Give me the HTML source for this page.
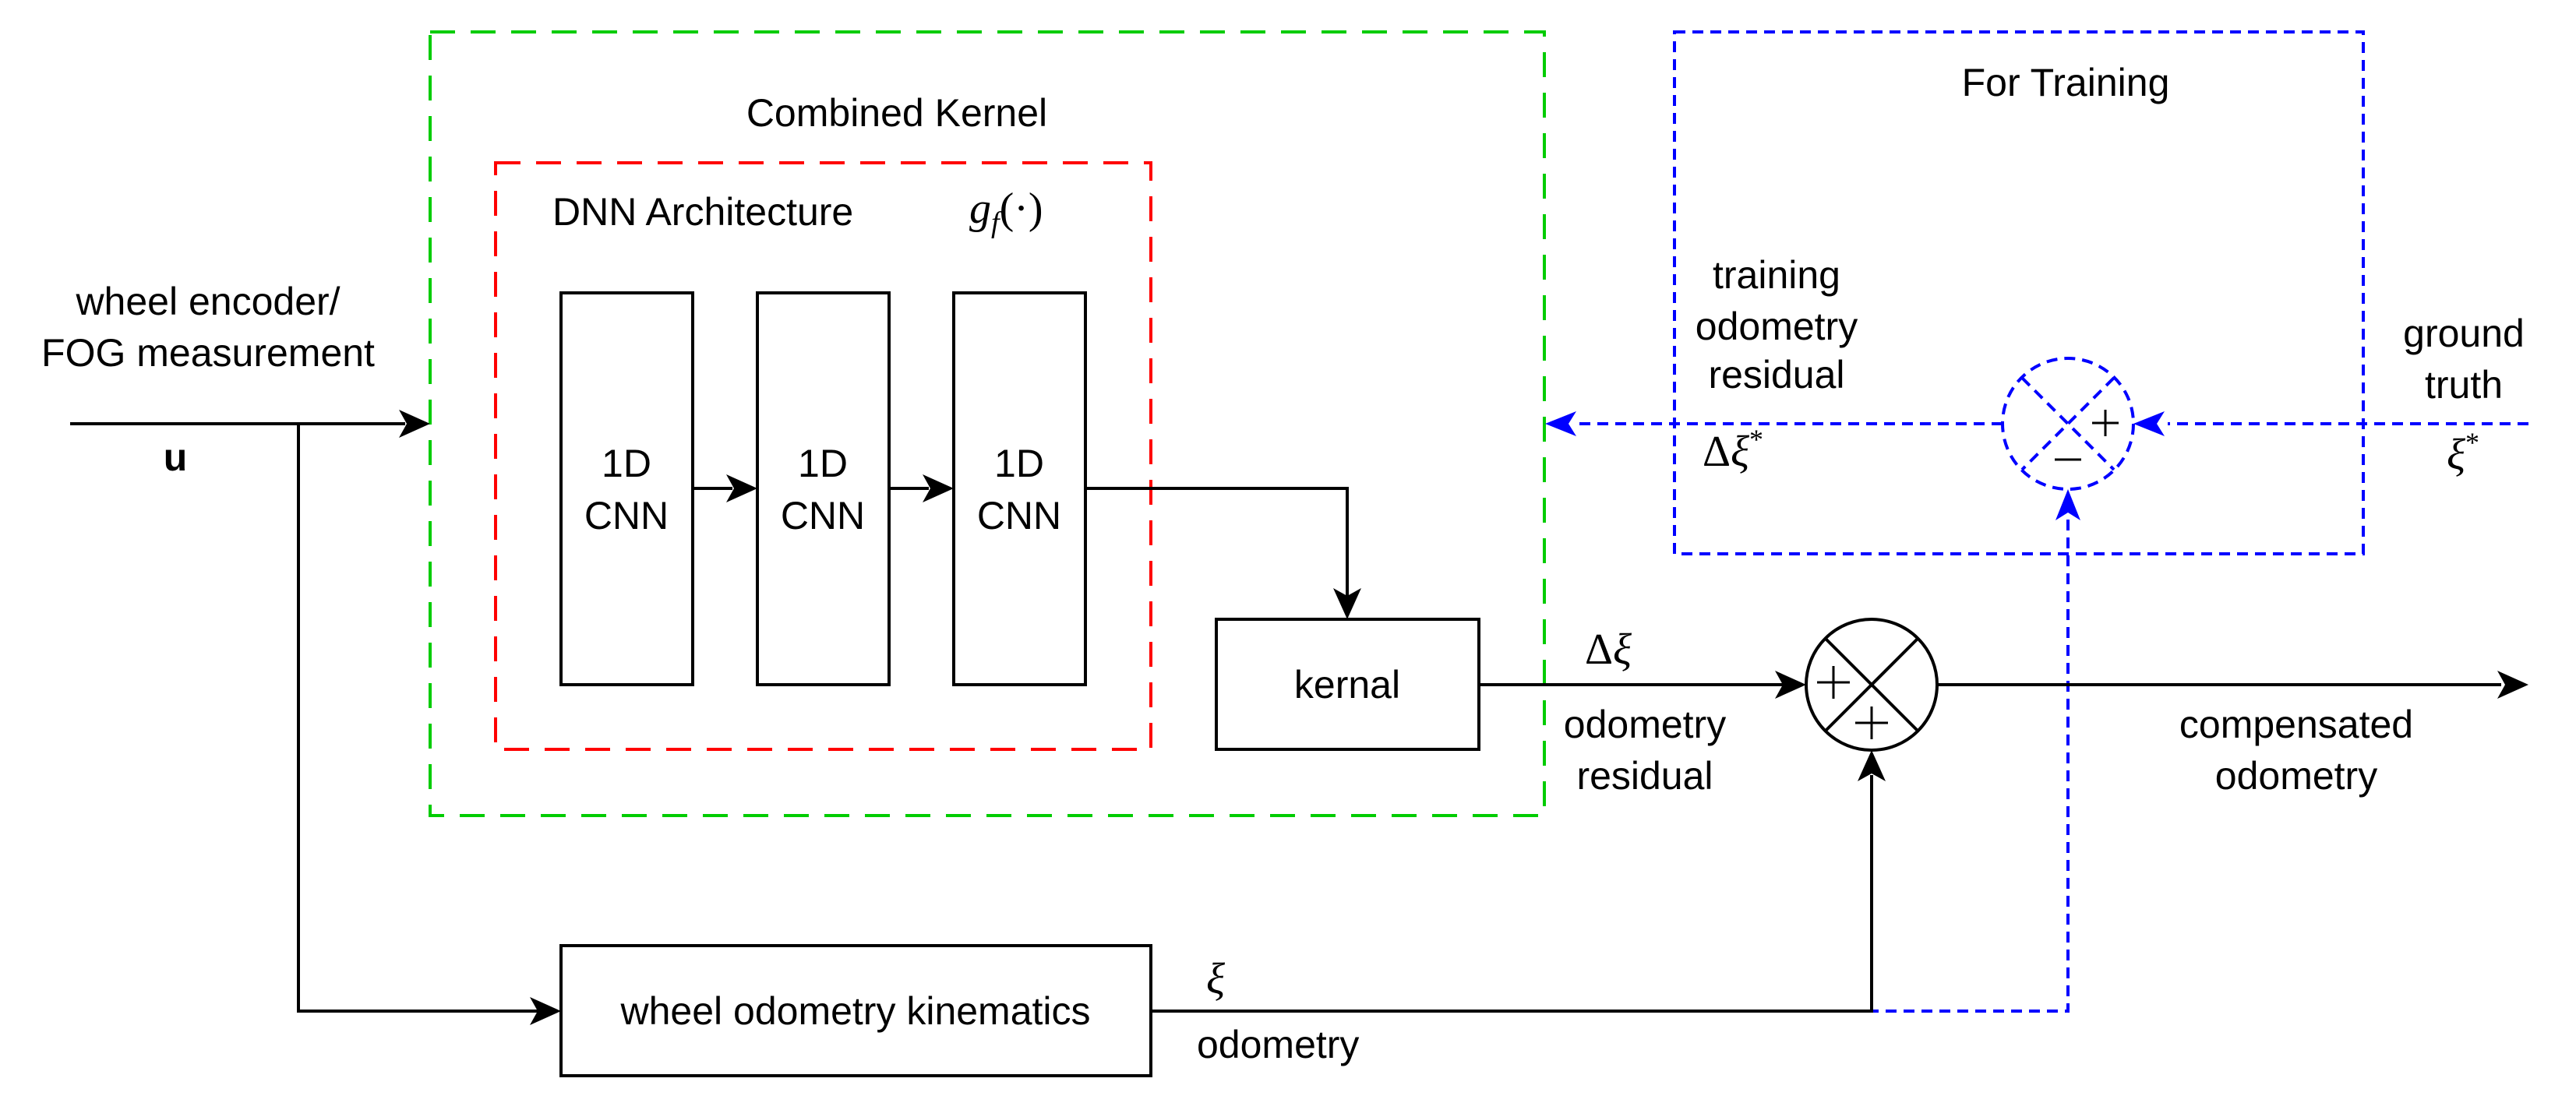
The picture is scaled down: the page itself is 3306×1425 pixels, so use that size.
<!DOCTYPE html>
<html><head><meta charset="utf-8"><style>
html,body{margin:0;padding:0;background:#fff;overflow:hidden;}
svg{display:block;}
text{font-family:"Liberation Sans",sans-serif;font-size:50px;fill:#000;}
.m{font-family:"Liberation Serif",serif;font-style:italic;font-size:56px;}
</style></head><body>
<svg width="3306" height="1425" viewBox="0 0 3306 1425" xmlns="http://www.w3.org/2000/svg">
<g fill="none" stroke-width="4">
<rect x="552" y="41" width="1430" height="1006" stroke="#00cc00" stroke-dasharray="32,20"/>
<rect x="636" y="209" width="841" height="753" stroke="#ff0000" stroke-dasharray="32,20"/>
<rect x="2149" y="41" width="884" height="670" stroke="#0000ff" stroke-dasharray="14,9"/>
<g stroke="#000">
<rect x="720" y="376" width="169" height="503"/>
<rect x="972" y="376" width="169" height="503"/>
<rect x="1224" y="376" width="169" height="503"/>
<rect x="1561" y="795" width="337" height="167"/>
<rect x="720" y="1214" width="757" height="167"/>
</g>
<g stroke="#0000ff" stroke-dasharray="14,9">
<path d="M1477,1298 H2654 V660"/>
<path d="M3245,544 H2782"/>
<path d="M2570,544 H2022"/>
<circle cx="2654" cy="544" r="84"/>
<path d="M2595,485 L2713,603 M2713,485 L2595,603"/>
</g>
<path d="M2654,628 l-16,40 l16,-10 l16,10z" fill="#0000ff" stroke="none"/>
<path d="M2738,544 l40,-16 l-10,16 l10,16z" fill="#0000ff" stroke="none"/>
<path d="M1983,544 l40,-16 l-10,16 l10,16z" fill="#0000ff" stroke="none"/>
<path d="M2685,543 h34 M2702,526 v34" stroke="#000" stroke-width="3"/>
<path d="M2637,590 h34" stroke="#000" stroke-width="3"/>
<g stroke="#000">
<path d="M90,544 H520"/>
<path d="M383,544 V1298 H690"/>
<path d="M889,627 H940"/>
<path d="M1141,627 H1192"/>
<path d="M1393,627 H1729 V765"/>
<path d="M1898,879 H2288"/>
<path d="M2486,879 H3210"/>
<path d="M1477,1298 H2402 V995"/>
<circle cx="2402" cy="879" r="84"/>
<path d="M2343,820 L2461,938 M2461,820 L2343,938"/>
<path d="M2332,876 h42 M2353,855 v42" stroke-width="3"/>
<path d="M2381,928 h42 M2402,907 v42" stroke-width="3"/>
</g>
</g>
<g fill="#000">
<path d="M552,544 l-40,-18 l10,18 l-10,18z"/>
<path d="M720,1298 l-40,-18 l10,18 l-10,18z"/>
<path d="M972,627 l-40,-18 l10,18 l-10,18z"/>
<path d="M1224,627 l-40,-18 l10,18 l-10,18z"/>
<path d="M1729,795 l-18,-40 l18,10 l18,-10z"/>
<path d="M2318,879 l-40,-18 l10,18 l-10,18z"/>
<path d="M3245,879 l-40,-18 l10,18 l-10,18z"/>
<path d="M2402,963 l-18,40 l18,-10 l18,10z"/>
</g>
<g text-anchor="middle">
<text x="1151" y="162">Combined Kernel</text>
<text x="267" y="404">wheel encoder/</text>
<text x="267" y="470">FOG measurement</text>
<text x="804" y="612">1D</text><text x="804" y="679">CNN</text>
<text x="1056" y="612">1D</text><text x="1056" y="679">CNN</text>
<text x="1308" y="612">1D</text><text x="1308" y="679">CNN</text>
<text x="1729" y="896">kernal</text>
<text x="1098" y="1315">wheel odometry kinematics</text>
<text x="2651" y="123">For Training</text>
<text x="2280" y="370">training</text>
<text x="2280" y="436">odometry</text>
<text x="2280" y="498">residual</text>
<text x="3162" y="445">ground</text>
<text x="3162" y="511">truth</text>
<text x="2111" y="947">odometry</text>
<text x="2111" y="1013">residual</text>
<text x="2947" y="947">compensated</text>
<text x="2947" y="1013">odometry</text>
</g>
<text x="709" y="289">DNN Architecture</text>
<text x="1244" y="286" class="m">g<tspan font-size="38" dy="12">f</tspan><tspan dy="-12" font-style="normal">(·)</tspan></text>
<text x="225" y="604" text-anchor="middle" font-family="Liberation Serif" font-weight="bold" font-size="56">u</text>
<text x="1536" y="1358">odometry</text>
<text x="1548" y="1275" class="m">ξ</text>
<text x="2185" y="598" class="m"><tspan font-style="normal">Δ</tspan>ξ<tspan dy="-22" font-size="36" font-style="normal">*</tspan></text>
<text x="3140" y="602" class="m">ξ<tspan dy="-22" font-size="36" font-style="normal">*</tspan></text>
<text x="2034" y="852" class="m"><tspan font-style="normal">Δ</tspan>ξ</text>
</svg>
</body></html>
